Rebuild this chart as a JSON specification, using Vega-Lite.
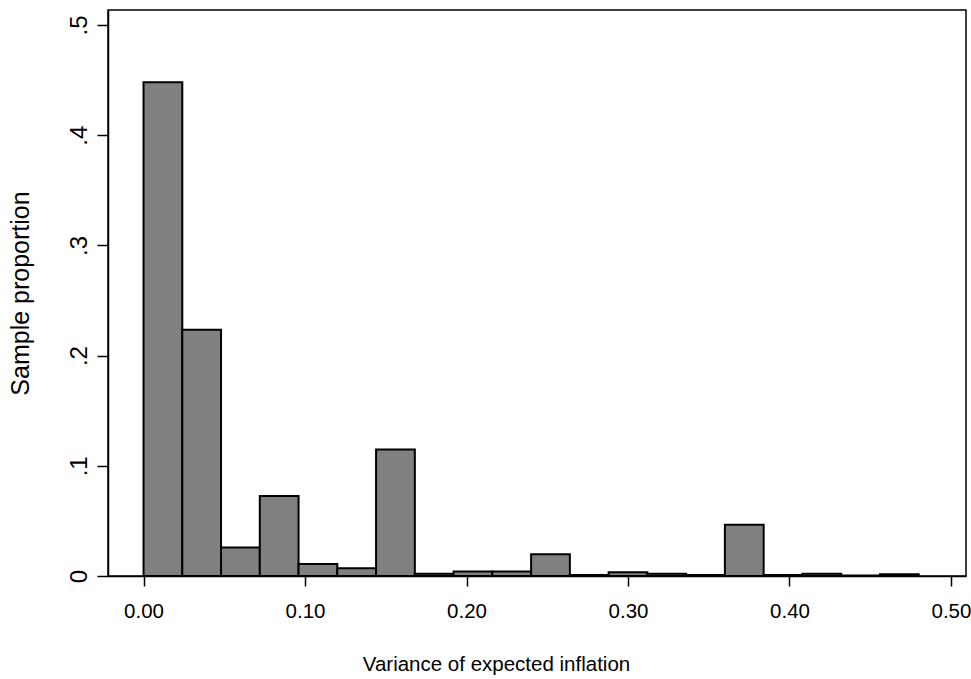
{
  "$schema": "https://vega.github.io/schema/vega-lite/v6.json",
  "autosize": {"type": "none"},
  "width": 858,
  "height": 566,
  "padding": {"left": 108, "top": 10, "right": 5, "bottom": 103},
  "background": "white",
  "config": {
    "view": {"stroke": "black", "strokeWidth": 1.5},
    "font": "Liberation Sans, Arial"
  },
  "data": {
    "values": [
      {"lo": 0.000, "hi": 0.024, "p": 0.448},
      {"lo": 0.024, "hi": 0.048, "p": 0.2235},
      {"lo": 0.048, "hi": 0.072, "p": 0.0258},
      {"lo": 0.072, "hi": 0.096, "p": 0.0725},
      {"lo": 0.096, "hi": 0.120, "p": 0.011},
      {"lo": 0.120, "hi": 0.144, "p": 0.007},
      {"lo": 0.144, "hi": 0.168, "p": 0.1148},
      {"lo": 0.168, "hi": 0.192, "p": 0.002},
      {"lo": 0.192, "hi": 0.216, "p": 0.004},
      {"lo": 0.216, "hi": 0.240, "p": 0.004},
      {"lo": 0.240, "hi": 0.264, "p": 0.0198},
      {"lo": 0.264, "hi": 0.288, "p": 0.001},
      {"lo": 0.288, "hi": 0.312, "p": 0.0035},
      {"lo": 0.312, "hi": 0.336, "p": 0.002},
      {"lo": 0.336, "hi": 0.360, "p": 0.001},
      {"lo": 0.360, "hi": 0.384, "p": 0.0465},
      {"lo": 0.384, "hi": 0.408, "p": 0.001},
      {"lo": 0.408, "hi": 0.432, "p": 0.002},
      {"lo": 0.432, "hi": 0.456, "p": 0.0005},
      {"lo": 0.456, "hi": 0.480, "p": 0.0015}
    ]
  },
  "mark": {"type": "bar", "fill": "#808080", "stroke": "black", "strokeWidth": 2, "clip": true},
  "encoding": {
    "x": {
      "field": "lo",
      "type": "quantitative",
      "scale": {"domain": [-0.022, 0.5093], "nice": false, "zero": false},
      "axis": {
        "values": [0, 0.1, 0.2, 0.3, 0.4, 0.5],
        "format": ".2f",
        "grid": false,
        "domain": true,
        "domainColor": "black",
        "domainWidth": 1.5,
        "tickColor": "black",
        "tickWidth": 1.5,
        "tickSize": 10,
        "labelFontSize": 20.5,
        "labelColor": "black",
        "labelBaseline": "alphabetic",
        "labelPadding": 31,
        "labelFont": "Liberation Sans, Arial",
        "title": "Variance of expected inflation",
        "titleFontSize": 20.5,
        "titleFontWeight": "normal",
        "titleColor": "black",
        "titleFont": "Liberation Sans, Arial",
        "titleX": 388,
        "titleY": 94,
        "titleAlign": "center",
        "titleBaseline": "alphabetic"
      }
    },
    "x2": {"field": "hi"},
    "y": {
      "field": "p",
      "type": "quantitative",
      "scale": {"domain": [0, 0.5136], "nice": false},
      "axis": {
        "values": [0, 0.1, 0.2, 0.3, 0.4, 0.5],
        "labelExpr": "datum.value == 0 ? '0' : replace(format(datum.value, '.1f'), '0.', '.')",
        "grid": false,
        "domain": true,
        "domainColor": "black",
        "domainWidth": 1.5,
        "tickColor": "black",
        "tickWidth": 1.5,
        "tickSize": 11,
        "labelAngle": -90,
        "labelAlign": "center",
        "labelBaseline": "alphabetic",
        "labelFontSize": 24,
        "labelColor": "black",
        "labelPadding": 11,
        "labelFont": "Liberation Sans, Arial",
        "title": "Sample proportion",
        "titleFontSize": 25,
        "titleFontWeight": "normal",
        "titleColor": "black",
        "titleFont": "Liberation Sans, Arial",
        "titleX": -80,
        "titleY": 283,
        "titleAngle": -90,
        "titleAlign": "center",
        "titleBaseline": "alphabetic"
      }
    },
    "y2": {"datum": 0}
  }
}
